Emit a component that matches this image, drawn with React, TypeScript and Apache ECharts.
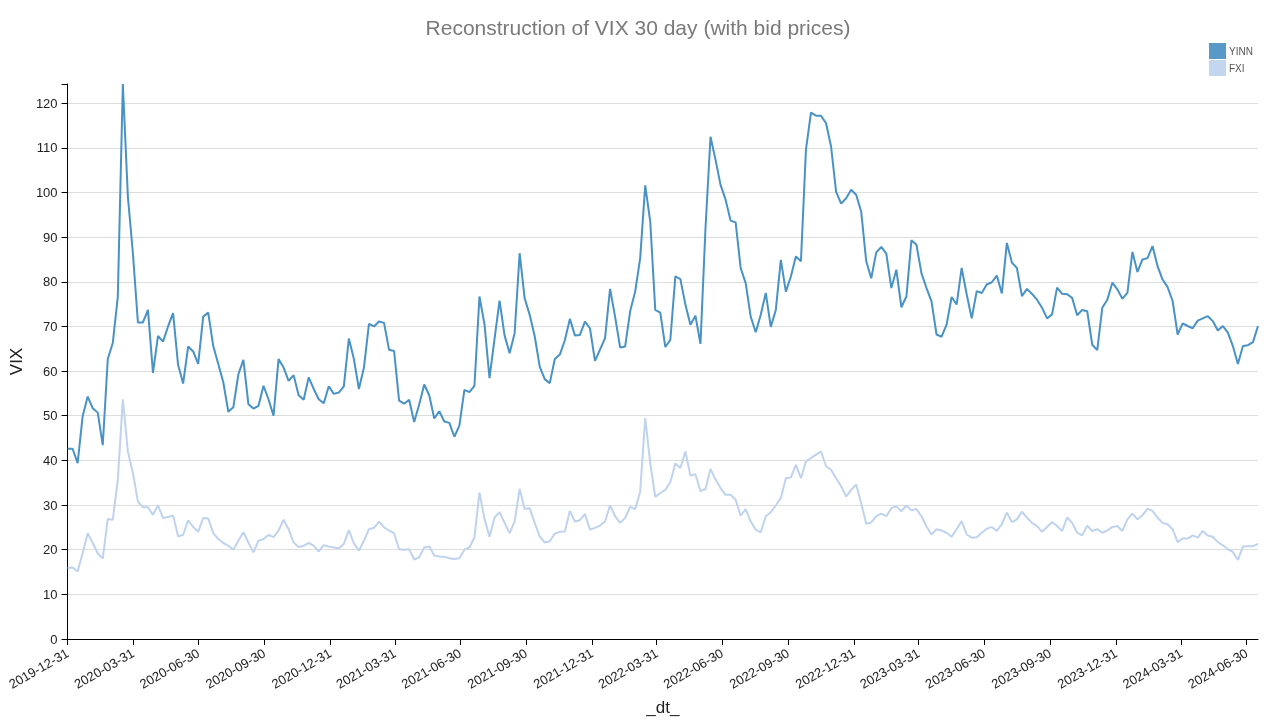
import React, { useEffect, useRef } from "react";
import * as echarts from "echarts";

const TITLE = "Reconstruction of VIX 30 day (with bid prices)";
const SERIES_NAMES = ["YINN", "FXI"];
const START_DATE = "2019-12-31";
const STEP_DAYS = 7;

const YINN = [
  42.6, 42.6, 39.4, 49.9, 54.3, 51.7, 50.7, 43.4, 62.7, 66.3,
  76.7, 124.3, 99.1, 86.4, 70.9, 70.9, 73.7, 59.6, 67.9, 66.6,
  70, 73, 61.4, 57.2, 65.5, 64.4, 61.6, 72.2, 73.1, 65.6,
  61.6, 57.5, 50.9, 51.9, 59.3, 62.5, 52.6, 51.6, 52.2, 56.7,
  53.7, 50, 62.7, 60.8, 57.8, 59.1, 54.6, 53.6, 58.6, 56,
  53.7, 52.8, 56.6, 54.9, 55.2, 56.6, 67.3, 62.7, 56, 60.8,
  70.6, 70, 71.1, 70.8, 64.8, 64.5, 53.4, 52.7, 53.6, 48.6,
  52.5, 57, 54.6, 49.4, 51, 48.7, 48.4, 45.3, 47.8, 55.8,
  55.3, 56.7, 76.7, 70.5, 58.4, 67.2, 75.8, 68, 64, 68.5,
  86.4, 76.3, 72.6, 67.8, 61, 58.2, 57.3, 62.7, 63.7, 66.9,
  71.7, 68, 68.1, 71.1, 69.6, 62.3, 64.8, 67.4, 78.4, 72.2,
  65.3, 65.5, 73.4, 77.8, 85.3, 101.6, 93.5, 73.7, 73.1, 65.4,
  67, 81.2, 80.6, 74.9, 70.4, 72.4, 66.1, 92, 112.5, 107.3,
  101.7, 98.4, 93.7, 93.3, 83.1, 79.7, 72.2, 68.7, 72.6, 77.5,
  69.9, 73.7, 84.9, 77.8, 81.2, 85.7, 84.6, 109.6, 117.9, 117.2,
  117.2, 115.5, 110.3, 100.2, 97.5, 98.7, 100.6, 99.5, 95.7, 84.6,
  80.8, 86.6, 87.8, 86.3, 78.6, 82.7, 74.3, 76.7, 89.3, 88.3,
  81.9, 78.6, 75.6, 68.2, 67.7, 70.4, 76.6, 74.9, 83.1, 77.2,
  71.8, 77.9, 77.5, 79.4, 79.9, 81.4, 77.4, 88.7, 84.3, 83.1,
  76.8, 78.4, 77.3, 76, 74.2, 71.8, 72.7, 78.7, 77.3, 77.2,
  76.4, 72.5, 73.7, 73.4, 65.9, 64.7, 74.2, 76, 79.8, 78.3,
  76.2, 77.5, 86.7, 82.2, 85, 85.3, 88, 83.5, 80.5, 78.8,
  75.7, 68.2, 70.7, 70.1, 69.6, 71.3, 71.8, 72.3, 71.2, 69.1,
  70.1, 68.6, 65.6, 61.6, 65.6, 65.8, 66.5, 70.1,
];

const FXI = [
  15.9, 16, 15.1, 19.2, 23.7, 21.5, 19.2, 18, 26.9, 26.7,
  35.7, 53.7, 42, 37.2, 30.8, 29.5, 29.5, 27.8, 29.9, 27.1,
  27.3, 27.7, 23, 23.3, 26.6, 25.1, 24, 27.1, 27, 23.7,
  22.4, 21.5, 20.9, 20, 22, 23.9, 21.6, 19.4, 22, 22.4,
  23.3, 22.8, 24.3, 26.7, 24.6, 21.6, 20.6, 20.9, 21.5, 20.9,
  19.6, 21, 20.7, 20.5, 20.3, 21.3, 24.4, 21.4, 19.8, 22,
  24.6, 24.9, 26.3, 25, 24.3, 23.7, 20.1, 20, 20.1, 17.8,
  18.3, 20.5, 20.7, 18.7, 18.5, 18.4, 18.1, 17.9, 18.1, 20,
  20.5, 22.8, 32.8, 26.9, 22.9, 27.2, 28.4, 26, 23.7, 26.3,
  33.6, 29.1, 29.3, 26, 23, 21.6, 21.9, 23.6, 24, 24.1,
  28.7, 26.3, 26.6, 28, 24.5, 24.9, 25.4, 26.3, 29.9, 27.5,
  26, 27.1, 29.6, 29.1, 33, 49.5, 39.4, 31.8, 32.7, 33.4,
  35.1, 39.3, 38.3, 42, 36.6, 36.9, 33.1, 33.6, 38.1, 35.7,
  33.8, 32.3, 32.3, 31.2, 27.6, 29.1, 26.3, 24.5, 23.9, 27.5,
  28.4, 29.9, 31.6, 36, 36.2, 39, 36, 39.8, 40.5, 41.3,
  42, 38.7, 37.9, 36, 34.2, 31.9, 33.4, 34.6, 30.4, 25.8,
  26.1, 27.5, 28.1, 27.5, 29.3, 29.7, 28.6, 29.9, 28.8, 29.1,
  27.5, 25.2, 23.4, 24.6, 24.3, 23.8, 22.9, 24.6, 26.4, 23.4,
  22.7, 22.8, 23.8, 24.7, 25.1, 24.2, 25.7, 28.3, 26.2, 26.8,
  28.5, 27.2, 26, 25.3, 24, 25.1, 26.2, 25.3, 24.2, 27.2,
  26, 23.8, 23.2, 25.4, 24.2, 24.6, 23.8, 24.3, 25.1, 25.3,
  24.2, 26.8, 28.1, 26.8, 27.7, 29.2, 28.7, 27.2, 26, 25.7,
  24.6, 21.7, 22.5, 22.5, 23.2, 22.7, 24.2, 23.2, 22.9, 21.7,
  21, 20.1, 19.5, 17.7, 20.7, 20.8, 20.8, 21.3,
];

const X_TICKS = [
  "2019-12-31", "2020-03-31", "2020-06-30", "2020-09-30", "2020-12-31",
  "2021-03-31", "2021-06-30", "2021-09-30", "2021-12-31", "2022-03-31",
  "2022-06-30", "2022-09-30", "2022-12-31", "2023-03-31", "2023-06-30",
  "2023-09-30", "2023-12-31", "2024-03-31", "2024-06-30",
];
const Y_TICKS = [0, 10, 20, 30, 40, 50, 60, 70, 80, 90, 100, 110, 120];

const DAY = 86400000;
const parseUTC = (s: string) => {
  const [y, m, d] = s.split("-").map(Number);
  return Date.UTC(y, m - 1, d);
};
const fmt = (t: number) => {
  const d = new Date(t);
  const p = (n: number) => String(n).padStart(2, "0");
  return `${d.getUTCFullYear()}-${p(d.getUTCMonth() + 1)}-${p(d.getUTCDate())}`;
};

const FONT = "'Liberation Sans', Arial, Helvetica, sans-serif";

export default function App() {
  const ref = useRef<HTMLDivElement>(null);
  useEffect(() => {
    document.body.style.margin = "0";
    const chart = echarts.init(ref.current!, undefined, { renderer: "svg" });
    const start = parseUTC(START_DATE);
    const dates = YINN.map((_, i) => start + i * STEP_DAYS * DAY);
    const tickVals = X_TICKS.map(parseUTC);
    const yinnData = YINN.map((v, i) => [dates[i], v]);
    const fxiData = FXI.map((v, i) => [dates[i], v]);

    chart.setOption({
      animation: false,
      textStyle: { fontFamily: FONT },
      title: {
        text: TITLE,
        left: "center",
        top: 12,
        textStyle: { fontSize: 21, color: "#7a7a7a", fontWeight: "normal", fontFamily: FONT },
      },
      legend: {
        data: SERIES_NAMES,
        orient: "vertical",
        left: 1204,
        top: 38,
        itemWidth: 17,
        itemHeight: 16,
        itemGap: 1,
        icon: "rect",
        textStyle: { fontSize: 10, color: "#555", fontFamily: FONT, padding: [0, 0, 0, -2] },
      },
      grid: { left: 66, right: 18, top: 84, bottom: 82, containLabel: false },
      xAxis: {
        type: "value",
        min: dates[0],
        max: dates[dates.length - 1],
        name: "_dt_",
        nameLocation: "middle",
        nameGap: 60,
        nameTextStyle: { fontSize: 17, color: "#222", fontFamily: FONT },
        axisLine: { show: true, lineStyle: { color: "#000", width: 1 } },
        axisTick: { show: true, length: 6, lineStyle: { color: "#000" }, customValues: tickVals },
        axisLabel: {
          customValues: tickVals,
          rotate: 30,
          fontSize: 13,
          color: "#222",
          margin: 13,
          fontFamily: FONT,
          formatter: (v: number) => fmt(v),
        },
        splitLine: { show: false },
      },
      yAxis: {
        type: "value",
        min: 0,
        max: "dataMax",
        interval: 10,
        name: "VIX",
        nameLocation: "middle",
        nameGap: 40,
        nameRotate: 90,
        nameTextStyle: { fontSize: 17, color: "#222", fontFamily: FONT },
        axisLine: { show: true, lineStyle: { color: "#000", width: 1 } },
        axisTick: { show: true, length: 6, lineStyle: { color: "#000" } },
        axisLabel: {
          customValues: Y_TICKS,
          fontSize: 13,
          color: "#222",
          margin: 10,
          fontFamily: FONT,
        },
        splitLine: {
          show: true,
          showMinLine: false,
          showMaxLine: false,
          lineStyle: { color: "#dddddd", width: 1 },
        },
      },
      series: [
        {
          name: "YINN",
          type: "line",
          data: yinnData,
          showSymbol: false,
          symbol: "none",
          itemStyle: { color: "#5799c7" },
          lineStyle: { color: "#4892c5", width: 2 },
          z: 3,
        },
        {
          name: "FXI",
          type: "line",
          data: fxiData,
          showSymbol: false,
          symbol: "none",
          itemStyle: { color: "#c2d6ef" },
          lineStyle: { color: "#bfd3ee", width: 2 },
          z: 2,
        },
      ],
    });
    return () => chart.dispose();
  }, []);
  return (
    <div
      ref={ref}
      style={{ position: "fixed", left: 0, top: 0, width: 1276, height: 721 }}
    />
  );
}
